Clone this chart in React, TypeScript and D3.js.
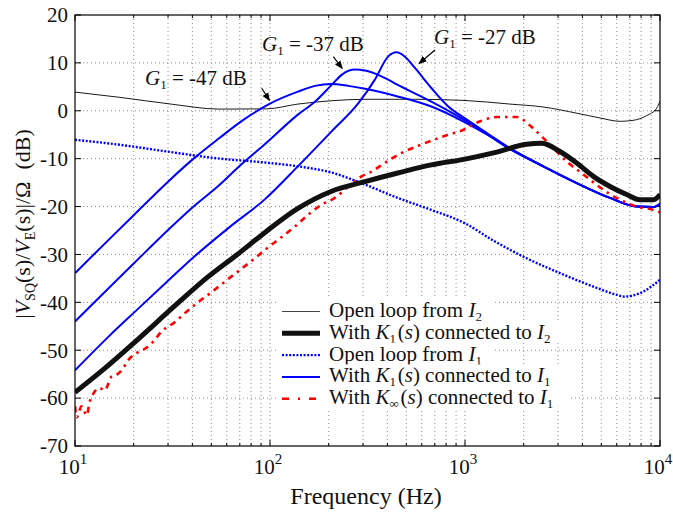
import React from 'react';
import * as d3 from 'd3';

// values (frequency in Hz, magnitude in dB)
const openI2Freq = [10, 17, 31, 55, 96, 139, 207, 307, 555, 1000, 1700, 2510, 3740, 4920, 6240, 7280, 8550, 9620, 10000];
const openI2Db = [3.9, 2.8, 1.4, 0.35, 0.4, 1.4, 2.1, 2.4, 2.4, 2.15, 1.4, 0.8, -0.5, -1.5, -2.2, -2.0, -1.0, 0.55, 2.0];

const k1I2Freq = [10, 14, 20, 33, 47, 68, 95, 139, 207, 307, 452, 672, 1000, 1400, 2070, 2470, 3070, 3740, 4550, 5540, 6750, 7890, 9250, 10000];
const k1I2Db = [-58.8, -54, -48.5, -40.5, -35, -30, -25.3, -20.4, -16.8, -14.8, -13, -11.3, -10.1, -8.8, -7.0, -6.8, -8.5, -10.9, -13.7, -15.8, -17.5, -18.6, -18.6, -17.5];

const openI1Freq = [10, 17, 30.7, 55.4, 94, 139, 207, 307, 452, 672, 1000, 1397, 2071, 3069, 4550, 5960, 6560, 7890, 10000];
const openI1Db = [-6.05, -7.1, -8.6, -10.0, -10.8, -11.6, -12.9, -15.4, -18.2, -20.7, -23.5, -27.1, -30.8, -33.9, -36.7, -38.4, -38.8, -38.1, -35.3];

const g47Freq = [10, 15, 20, 30, 40, 55, 73, 100, 139, 170, 207, 252, 307, 452, 672, 1000, 1300, 1700, 2520, 3740, 5540, 7590, 9250, 10000];
const g47Db = [-33.9, -26.8, -21.8, -14.8, -10.2, -5.7, -1.9, 1.5, 4.0, 5.2, 5.6, 5.2, 4.6, 3.0, 0.9, -2.4, -5.0, -8.0, -11.6, -15.1, -18.2, -20, -20.1, -19.4];

const g37Freq = [10, 15, 20, 30, 40, 55, 70, 94, 139, 170, 207, 233, 273, 307, 373, 452, 672, 1000, 1300, 1700, 2520, 3740, 5540, 7590, 9250, 10000];
const g37Db = [-44, -36.9, -31.9, -24.9, -20.2, -15.5, -11.5, -7.0, -0.8, 1.9, 5.4, 7.5, 8.6, 8.4, 7.2, 5.4, 1.9, -2.0, -4.9, -7.9, -11.6, -15.1, -18.2, -20, -20.1, -19.4];

const g27Freq = [10, 15, 20, 30, 40, 62, 94, 139, 207, 284, 345, 403, 446, 492, 555, 674, 821, 1000, 1300, 1700, 2520, 3740, 5540, 7590, 9250, 10000];
const g27Db = [-54.2, -47, -42.2, -35.5, -30.8, -24.3, -18.5, -11.6, -4.3, 1.6, 6.5, 11.3, 12.2, 11.3, 8.9, 4.7, 0.9, -1.6, -4.7, -7.8, -11.6, -15.1, -18.2, -20, -20.1, -19.4];

const kInfI1Freq = [10, 10.2, 10.8, 11.5, 11.9, 13.4, 14.2, 15.4, 16.4, 17.4, 18.8, 20.7, 22.4, 25.2, 27.8, 32.6, 36.7, 42.1, 49.3, 56.6, 61.2, 71.4, 83.6, 98, 134, 157, 184, 215, 252, 295, 332, 397, 473, 576, 688, 820, 942, 1194, 1482, 1842, 2198, 2523, 2953, 3388, 3966, 4642, 5433, 6489, 7598, 9253, 10000];
const kInfI1Db = [-61.7, -64, -61.7, -63.6, -60.7, -57.9, -58.4, -55.5, -55.1, -54.1, -52, -50.6, -49.9, -48.2, -46.1, -44.1, -42.2, -40.2, -38.1, -36.2, -35.1, -33, -30.8, -28.5, -24.2, -21.7, -19.6, -18.2, -15.8, -13.7, -12.7, -10.6, -8.8, -7.3, -6.1, -5.0, -4.3, -2.2, -1.3, -1.3, -3.4, -5.7, -8.5, -10.9, -13.0, -15.2, -17.2, -18.9, -20, -20.7, -21.2];

const yTicks = [20, 10, 0, -10, -20, -30, -40, -50, -60, -70];
const xDecades = [10, 100, 1000, 10000];
const xExponents = ['1', '2', '3', '4'];

const FONT = '"Liberation Serif", "Times New Roman", serif';
const W = 673;
const H = 524;

const App = () => {
  const xScale = d3.scaleLog().domain([10, 10000]).range([75, 660]);
  const yScale = d3.scaleLinear().domain([-70, 20]).range([446, 15]);

  const line = d3.line<[number, number]>()
    .x(d => xScale(d[0]))
    .y(d => yScale(d[1]))
    .curve(d3.curveMonotoneX);

  const pts = (f: number[], v: number[]) => f.map((x, i) => [x, v[i]] as [number, number]);

  const series = [
    { d: pts(openI2Freq, openI2Db), stroke: '#000', width: 0.9, dash: null },
    { d: pts(openI1Freq, openI1Db), stroke: '#0000ff', width: 2.4, dash: '2 1.6' },
    { d: pts(g47Freq, g47Db), stroke: '#0000ff', width: 2, dash: null },
    { d: pts(g37Freq, g37Db), stroke: '#0000ff', width: 2, dash: null },
    { d: pts(g27Freq, g27Db), stroke: '#0000ff', width: 2, dash: null },
    { d: pts(kInfI1Freq, kInfI1Db), stroke: '#ff0000', width: 2.6, dash: '6 5 2.5 5' },
    { d: pts(k1I2Freq, k1I2Db), stroke: '#111', width: 5, dash: null },
  ];

  const minorX: number[] = [];
  xDecades.slice(0, 3).forEach(dec => {
    for (let k = 2; k <= 9; k++) minorX.push(dec * k);
  });

  const [x0, x1] = xScale.range();
  const [y0, y1] = yScale.range();

  const legendRows = [
    { stroke: '#444', width: 1, dash: null, end: 492 },
    { stroke: '#111', width: 5, dash: null, end: 562 },
    { stroke: '#0000ff', width: 2.4, dash: '2 1.6', end: 492 },
    { stroke: '#0000ff', width: 2, dash: null, end: 560 },
    { stroke: '#ff0000', width: 2.6, dash: '7 9 2 9', end: 570 },
  ];
  const legendBase = 317;
  const legendStep = 21.8;

  const sub = (s: string) => (
    <>
      <tspan fontSize={13} dy={4}>{s}</tspan>
      <tspan dy={-4}>{'\u200A'}</tspan>
    </>
  );

  const legendTexts = [
    <>Open loop from <tspan fontStyle="italic">I</tspan>{sub('2')}</>,
    <>With <tspan fontStyle="italic">K</tspan>{sub('1')}(<tspan fontStyle="italic">s</tspan>) connected to <tspan fontStyle="italic">I</tspan>{sub('2')}</>,
    <>Open loop from <tspan fontStyle="italic">I</tspan>{sub('1')}</>,
    <>With <tspan fontStyle="italic">K</tspan>{sub('1')}(<tspan fontStyle="italic">s</tspan>) connected to <tspan fontStyle="italic">I</tspan>{sub('1')}</>,
    <>With <tspan fontStyle="italic">K</tspan>{sub('\u221E')}(<tspan fontStyle="italic">s</tspan>) connected to <tspan fontStyle="italic">I</tspan>{sub('1')}</>,
  ];

  const annotations = [
    { x: 145, y: 85, label: '-47', ax1: 261.7, ay1: 88.3, ax2: 269.5, ay2: 100.5 },
    { x: 262, y: 51, label: '-37', ax1: 333.3, ay1: 56.7, ax2: 342.3, ay2: 68.5 },
    { x: 434, y: 44, label: '-27', ax1: 435, ay1: 50, ax2: 419, ay2: 63.5 },
  ];

  return (
    <svg width={W} height={H} viewBox={`0 0 ${W} ${H}`}
      style={{ position: 'absolute', left: 0, top: 0, background: '#fff', fontFamily: FONT }}>
      <defs>
        <marker id="arr" viewBox="0 0 10 10" refX="9" refY="5" markerWidth="7" markerHeight="7" orient="auto">
          <path d="M0,1 L10,5 L0,9 Z" fill="#000" />
        </marker>
        <clipPath id="plot">
          <rect x={x0} y={y1} width={x1 - x0} height={y0 - y1} />
        </clipPath>
      </defs>

      {/* grid */}
      <g stroke="#808080" strokeWidth={0.9} strokeDasharray="1 3">
        {[...minorX, 100, 1000].map(f => (
          <line key={'gx' + f} x1={xScale(f)} x2={xScale(f)} y1={y1} y2={y0} />
        ))}
        {yTicks.slice(1, -1).map(v => (
          <line key={'gy' + v} x1={x0} x2={x1} y1={yScale(v)} y2={yScale(v)} />
        ))}
      </g>

      {/* ticks */}
      <g stroke="#000" strokeWidth={1}>
        {minorX.map(f => (
          <g key={'tx' + f}>
            <line x1={xScale(f)} x2={xScale(f)} y1={y0} y2={y0 - 3} />
            <line x1={xScale(f)} x2={xScale(f)} y1={y1} y2={y1 + 3} />
          </g>
        ))}
        {xDecades.map(f => (
          <g key={'tX' + f}>
            <line x1={xScale(f)} x2={xScale(f)} y1={y0} y2={y0 - 6} />
            <line x1={xScale(f)} x2={xScale(f)} y1={y1} y2={y1 + 6} />
          </g>
        ))}
        {yTicks.map(v => (
          <g key={'ty' + v}>
            <line x1={x0} x2={x0 + 6} y1={yScale(v)} y2={yScale(v)} />
            <line x1={x1} x2={x1 - 6} y1={yScale(v)} y2={yScale(v)} />
          </g>
        ))}
      </g>

      {/* curves */}
      <g clipPath="url(#plot)" fill="none" strokeLinejoin="round">
        {series.map((s, i) => (
          <path key={i} d={line(s.d) || ''} stroke={s.stroke} strokeWidth={s.width}
            strokeDasharray={s.dash || undefined} />
        ))}
      </g>

      {/* frame */}
      <rect x={x0} y={y1} width={x1 - x0} height={y0 - y1} fill="none" stroke="#000" strokeWidth={1.2} />

      {/* tick labels */}
      <g fontSize={21} fill="#111" style={{ fontFamily: FONT }}>
        {yTicks.map(v => (
          <text key={'ly' + v} x={68} y={yScale(v)} dy="0.35em" textAnchor="end">{v}</text>
        ))}
        {xDecades.map((f, i) => (
          <text key={'lx' + f} x={xScale(f) - 2} y={474} textAnchor="middle">
            10<tspan fontSize={15} dy={-10}>{xExponents[i]}</tspan>
          </text>
        ))}
      </g>

      {/* axis titles */}
      <text x={366} y={504} fontSize={24} textAnchor="middle" fill="#111" style={{ fontFamily: FONT }}>Frequency (Hz)</text>
      <text transform="translate(30,224) rotate(-90)" fontSize={22} textAnchor="middle" fill="#111" style={{ fontFamily: FONT }}>
        |<tspan fontStyle="italic">V</tspan><tspan fontSize={14} dy={5}>SQ</tspan><tspan dy={-5}>(s)/</tspan>
        <tspan fontStyle="italic">V</tspan><tspan fontSize={14} dy={5}>E</tspan><tspan dy={-5}>(s)|/Ω</tspan>
        <tspan dx={12}>(dB)</tspan>
      </text>

      {/* annotations */}
      <g fontSize={21} fill="#111" style={{ fontFamily: FONT }}>
        {annotations.map(a => (
          <g key={a.label}>
            <text x={a.x} y={a.y}>
              <tspan fontStyle="italic">G</tspan><tspan fontSize={13} dy={4}>1</tspan>
              <tspan dy={-4}> = {a.label} dB</tspan>
            </text>
            <line x1={a.ax1} y1={a.ay1} x2={a.ax2} y2={a.ay2} stroke="#000" strokeWidth={1.2} markerEnd="url(#arr)" />
          </g>
        ))}
      </g>

      {/* legend */}
      <g fontSize={21} fill="#111" style={{ fontFamily: FONT }}>
        {legendRows.map((r, i) => {
          const base = legendBase + i * legendStep;
          return (
            <g key={'lg' + i}>
              <rect x={279} y={base - 18} width={r.end - 279} height={legendStep + 0.5} fill="#fff" />
              <line x1={282} x2={320} y1={base - 5.5} y2={base - 5.5} stroke={r.stroke}
                strokeWidth={r.width} strokeDasharray={r.dash || undefined} />
              <text x={329} y={base}>{legendTexts[i]}</text>
            </g>
          );
        })}
      </g>
    </svg>
  );
};

export default App;
